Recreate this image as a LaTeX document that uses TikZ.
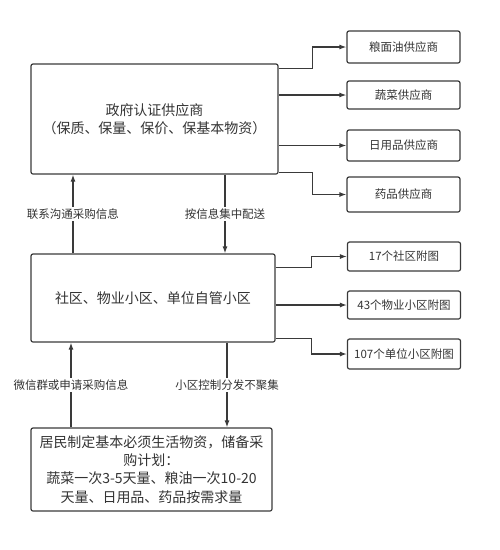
\documentclass[tikz,border=0pt]{standalone}
\usepackage{fontspec}
\setmainfont{Noto Sans CJK SC}
\usetikzlibrary{arrows.meta}
\definecolor{linec}{HTML}{3A3A3A}
\definecolor{textc}{HTML}{333333}

\begin{document}
\begin{tikzpicture}[x=1pt,y=-1pt]
\tikzset{box/.style={draw=linec,line width=1.2pt,rounded corners=2pt,text=textc,align=center,inner sep=0pt,font=\fontsize{14}{18.3}\selectfont},
  supbox/.style={box,minimum width=113pt,font=\fontsize{11.5}{14}\selectfont},
  flow/.style={draw=linec,line width=1.2pt,-{Latex[length=7pt,width=5pt]}},
  lbl/.style={fill=white,text=textc,inner sep=1.5pt,font=\fontsize{11.5}{14}\selectfont}}
\useasboundingbox (0,0) rectangle (500,550);

\node[box,minimum width=247pt,minimum height=110pt] (gov) at (154.5,119) {政府认证供应商\\（保质、保量、保价、保基本物资）};
\node[box,minimum width=244pt,minimum height=88pt] (zone) at (153,298) {社区、物业小区、单位自管小区};
\node[box,minimum width=241pt,minimum height=83pt] (res) at (151.5,469.5) {居民制定基本必须生活物资，储备采\\购计划：\\蔬菜一次3-5天量、粮油一次10-20\\天量、日用品、药品按需求量};

\foreach \n/\y/\h/\t in {1/47/32/粮面油供应商,2/95/28/蔬菜供应商,3/145.5/31/日用品供应商,4/194.5/35/药品供应商}{%
  \node[supbox,minimum height=\h pt] (sup\n) at (403.5,\y) {\t};
}%
\foreach \n/\y/\h/\t in {1/256.5/29/17个社区附图,2/305/28/43个物业小区附图,3/354/30/107个单位小区附图}{%
  \node[supbox,minimum height=\h pt] (map\n) at (404,\y) {\t};
}%

\draw[flow] ([yshift=-5pt]gov.north east) -- ++(34,0) |- (sup1);
\draw[flow] (gov.east |- sup2) -- (sup2);
\draw[flow] (gov.east |- sup3) -- (sup3);
\draw[flow] ([yshift=2pt]gov.south east) -- ++(34,0) |- (sup4);
\draw[flow] ([yshift=-14pt]zone.north east) -- ++(36,0) |- (map1);
\draw[flow] (zone.east |- map2) -- (map2);
\draw[flow] ([yshift=4pt]zone.south east) -- ++(36,0) |- (map3);

\coordinate (askA) at (73,0);
\coordinate (sendA) at (225,0);
\coordinate (askB) at (71,0);
\coordinate (sendB) at (227,0);
\draw[flow] (zone.north -| askA) -- node[lbl] {联系沟通采购信息} (gov.south -| askA);
\draw[flow] (gov.south -| sendA) -- node[lbl] {按信息集中配送} (zone.north -| sendA);
\draw[flow] (res.north -| askB) -- node[lbl] {微信群或申请采购信息} (zone.south -| askB);
\draw[flow] (zone.south -| sendB) -- node[lbl] {小区控制分发不聚集} (res.north -| sendB);
\end{tikzpicture}
\end{document}
